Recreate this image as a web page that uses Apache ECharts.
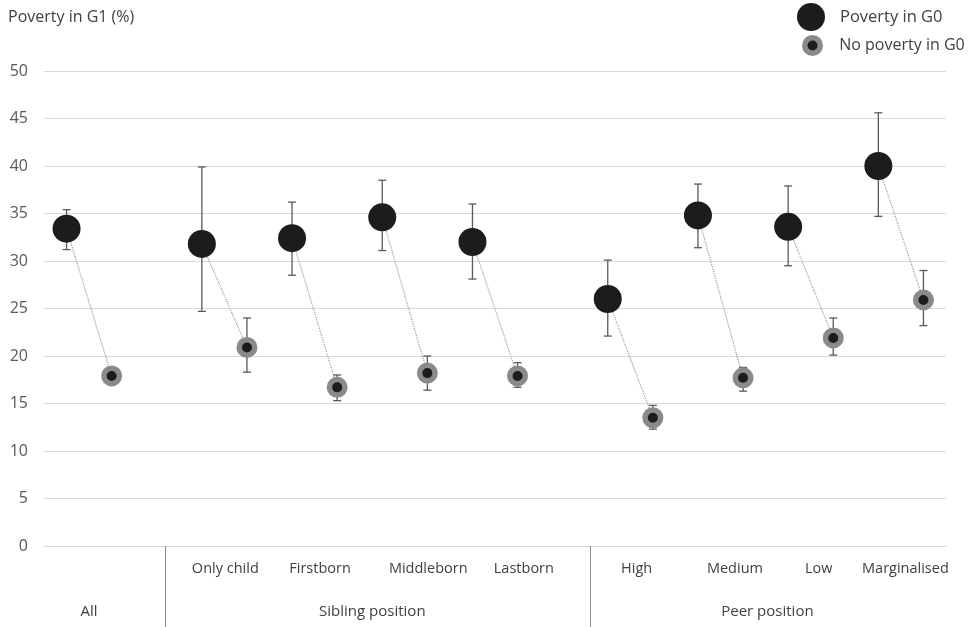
<!DOCTYPE html>
<html>
<head>
<meta charset="utf-8">
<script src="https://cdn.jsdelivr.net/npm/echarts@6/dist/echarts.min.js"></script>
<style>
  html, body { margin: 0; padding: 0; background: #fff; }
  #chart { width: 970px; height: 627px; }
</style>
</head>
<body>
<div id="chart"></div>
<script>
var categories = ['All', 'Only child', 'Firstborn', 'Middleborn', 'Lastborn', 'High', 'Medium', 'Low', 'Marginalised'];
var groups = ['All', 'Sibling position', 'Peer position'];

// poverty in G1 (%), by G0 status
var povertyG0 = [33.4, 31.8, 32.4, 34.6, 32.0, 26.0, 34.8, 33.6, 40.0];
var povertyG0Low = [31.2, 24.7, 28.5, 31.1, 28.1, 22.1, 31.4, 29.5, 34.7];
var povertyG0High = [35.4, 39.9, 36.2, 38.5, 36.0, 30.1, 38.1, 37.9, 45.6];

var noPovertyG0 = [17.9, 20.9, 16.7, 18.2, 17.9, 13.5, 17.7, 21.9, 25.9];
var noPovertyG0Low = [17.4, 18.3, 15.3, 16.4, 16.7, 12.3, 16.3, 20.1, 23.2];
var noPovertyG0High = [18.4, 24.0, 18.0, 20.0, 19.3, 14.8, 18.8, 24.0, 29.0];

// layout on the x axis (slot units)
var slot = [0.5, 2, 3, 4, 5, 6.5, 7.5, 8.5, 9.5];
var pairOffset = 0.25;
var labelAt = [2.01, 3.06, 4.26, 5.32, 6.57, 7.66, 8.59, 9.55];
var groupAt = [0.5, 3.64, 8.02];
var dividerAt = [1.34, 6.06];

var FONT = '"Open Sans", "DejaVu Sans", sans-serif';

var blackPts = [], grayPts = [], links = [], bars = [];
slot.forEach(function (s, i) {
    var xb = s - pairOffset, xg = s + pairOffset;
    blackPts.push([xb, povertyG0[i]]);
    grayPts.push([xg, noPovertyG0[i]]);
    links.push({ coords: [[xb, povertyG0[i]], [xg, noPovertyG0[i]]] });
    bars.push([xb, povertyG0Low[i], povertyG0High[i]]);
    bars.push([xg, noPovertyG0Low[i], noPovertyG0High[i]]);
});

function renderErrorBar(params, api) {
    var x = api.value(0);
    var lo = api.coord([x, api.value(1)]);
    var hi = api.coord([x, api.value(2)]);
    var cap = 4;
    var style = { stroke: '#5a5a5a', lineWidth: 1.3 };
    return {
        type: 'group',
        children: [
            { type: 'line', shape: { x1: lo[0], y1: lo[1], x2: hi[0], y2: hi[1] }, style: style },
            { type: 'line', shape: { x1: lo[0] - cap, y1: lo[1], x2: lo[0] + cap, y2: lo[1] }, style: style },
            { type: 'line', shape: { x1: hi[0] - cap, y1: hi[1], x2: hi[0] + cap, y2: hi[1] }, style: style }
        ]
    };
}

var chart = echarts.init(document.getElementById('chart'), null, { renderer: 'canvas' });

var blackStyle = { color: '#1c1c1c', opacity: 1 };
var grayStyle = { color: '#1c1c1c', borderColor: '#8a8a8a', borderWidth: 5.5, opacity: 1 };

var option = {
    animation: false,
    backgroundColor: '#fff',
    textStyle: { fontFamily: FONT },
    title: {
        text: 'Poverty in G1 (%)',
        left: 8,
        top: 9,
        padding: 0,
        textStyle: { fontFamily: FONT, fontSize: 16, fontWeight: 'normal', color: '#404040' }
    },
    legend: [{
        data: [{ name: 'Poverty in G0', icon: 'circle', itemStyle: blackStyle }],
        left: 797,
        top: 3,
        padding: 0,
        itemWidth: 28,
        itemHeight: 28,
        selectedMode: false,
        textStyle: { fontFamily: FONT, fontSize: 16.5, color: '#404040', padding: [0, 0, 0, 10] }
    }, {
        data: [{ name: 'No poverty in G0', icon: 'circle', itemStyle: grayStyle }],
        left: 802,
        top: 35,
        padding: 0,
        itemWidth: 15.5,
        itemHeight: 15.5,
        selectedMode: false,
        textStyle: { fontFamily: FONT, fontSize: 16, color: '#404040', padding: [0, 0, 0, 14] }
    }],
    grid: { left: 44, right: 24, top: 71, bottom: 81 },
    xAxis: [{
        type: 'value',
        min: 0,
        max: 10,
        axisLine: { show: true, lineStyle: { color: '#d9d9d9', width: 1 } },
        axisTick: { show: false },
        splitLine: { show: false },
        axisLabel: {
            customValues: labelAt,
            margin: 15,
            fontFamily: FONT,
            fontSize: 14.5,
            color: '#404040',
            formatter: function (v) {
                var k = labelAt.indexOf(v);
                return k >= 0 ? categories[k + 1] : '';
            }
        }
    }, {
        type: 'value',
        min: 0,
        max: 10,
        position: 'bottom',
        axisLine: { show: false },
        splitLine: { show: false },
        axisTick: {
            show: true,
            customValues: dividerAt,
            length: 81,
            lineStyle: { color: '#8c8c8c', width: 1 }
        },
        axisLabel: {
            customValues: groupAt,
            margin: 58,
            fontFamily: FONT,
            fontSize: 15,
            color: '#404040',
            formatter: function (v) {
                var k = groupAt.indexOf(v);
                return k >= 0 ? groups[k] : '';
            }
        }
    }],
    yAxis: {
        type: 'value',
        min: 0,
        max: 50,
        interval: 5,
        axisLine: { show: false },
        axisTick: { show: false },
        splitLine: { lineStyle: { color: '#d9d9d9', width: 1 } },
        axisLabel: { fontFamily: FONT, fontSize: 16, color: '#595959', margin: 16 }
    },
    series: [{
        name: 'link',
        type: 'lines',
        coordinateSystem: 'cartesian2d',
        xAxisIndex: 0,
        z: 1,
        silent: true,
        lineStyle: { color: '#9a9a9a', width: 1.2, type: 'dotted', opacity: 1 },
        data: links
    }, {
        name: 'errors',
        type: 'custom',
        xAxisIndex: 0,
        z: 2,
        silent: true,
        renderItem: renderErrorBar,
        encode: { x: 0, y: [1, 2] },
        data: bars
    }, {
        name: 'Poverty in G0',
        type: 'scatter',
        xAxisIndex: 0,
        z: 3,
        symbol: 'circle',
        symbolSize: 28,
        itemStyle: blackStyle,
        data: blackPts
    }, {
        name: 'No poverty in G0',
        type: 'scatter',
        xAxisIndex: 0,
        z: 3,
        symbol: 'circle',
        symbolSize: 15.5,
        itemStyle: grayStyle,
        data: grayPts
    }]
};

chart.setOption(option);
</script>
</body>
</html>
